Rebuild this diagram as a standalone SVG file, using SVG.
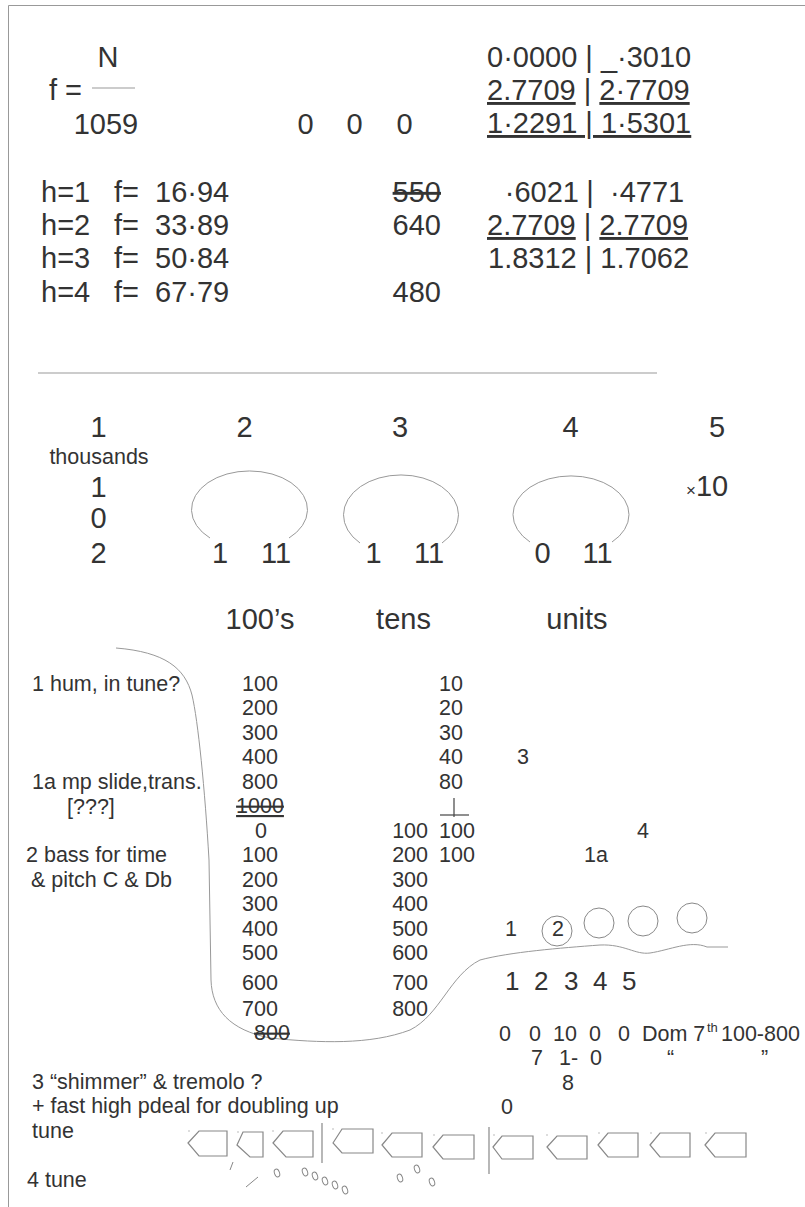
<svg xmlns="http://www.w3.org/2000/svg" width="805" height="1207" viewBox="0 0 805 1207">
<style>
text{font-family:"Liberation Sans",Arial,sans-serif;fill:#333}
.b{font-size:29px}
.s{font-size:21.5px}
.m{font-size:26px}
.c{text-anchor:middle}
.e{text-anchor:end}
.u{text-decoration:underline}
.x{text-decoration:line-through}
.ln{fill:none;stroke:#999;stroke-width:1}
.sh{fill:none;stroke:#888;stroke-width:1.2}
.ov{fill:none;stroke:#888;stroke-width:1}
.tk{stroke:#bbb;stroke-width:1}
</style>
<rect x="0" y="0" width="805" height="1207" fill="#fff"/>
<g id="frame">
<path class="ln" d="M8.5,1207 V5.5 H805"/>
</g>
<g id="formula">
<text class="b c" x="108" y="67">N</text>
<text class="b" x="49" y="100">f =</text>
<line class="ln" x1="92" y1="88" x2="135" y2="88"/>
<text class="b c" x="106" y="134">1059</text>
<text class="b c" x="305.5" y="134">0</text>
<text class="b c" x="354.5" y="134">0</text>
<text class="b c" x="404.5" y="134">0</text>
</g>
<g id="logs-top">
<text class="b" x="487" y="67">0·0000 | _·3010</text>
<text class="b" x="487" y="100"><tspan class="u">2.7709</tspan> | <tspan class="u">2·7709</tspan></text>
<text class="b u" x="487" y="133">1·2291 | 1·5301</text>
</g>
<g id="harmonics">
<text class="b" x="41" y="202">h=1</text><text class="b" x="114" y="202">f=</text><text class="b" x="155" y="202">16·94</text>
<text class="b" x="41" y="235">h=2</text><text class="b" x="114" y="235">f=</text><text class="b" x="155" y="235">33·89</text>
<text class="b" x="41" y="268">h=3</text><text class="b" x="114" y="268">f=</text><text class="b" x="155" y="268">50·84</text>
<text class="b" x="41" y="302">h=4</text><text class="b" x="114" y="302">f=</text><text class="b" x="155" y="302">67·79</text>
<text class="b e x" x="441" y="202">550</text>
<text class="b e" x="441" y="235">640</text>
<text class="b e" x="441" y="302">480</text>
</g>
<g id="logs-bottom">
<text class="b e" x="579" y="202">·6021</text>
<text class="b c" x="590" y="202">|</text>
<text class="b" x="610" y="202">·4771</text>
<text class="b" x="487" y="235"><tspan class="u">2.7709</tspan> | <tspan class="u">2.7709</tspan></text>
<text class="b" x="488" y="268">1.8312 | 1.7062</text>
</g>
<line id="divider" class="ln" x1="38" y1="373" x2="657" y2="373"/>
<g id="places">
<text class="b c" x="98.5" y="437">1</text>
<text class="b c" x="244.5" y="437">2</text>
<text class="b c" x="400" y="437">3</text>
<text class="b c" x="570.5" y="437">4</text>
<text class="b c" x="717" y="437">5</text>
<text class="s c" x="99" y="464">thousands</text>
<text class="b c" x="98.5" y="497">1</text>
<text class="b c" x="98.5" y="528">0</text>
<text class="b c" x="98.5" y="563">2</text>
<text class="b" x="686" y="496"><tspan font-size="17">×</tspan>10</text>
<path class="ln" d="M210,538 A58,38.7 0 1 1 289,538"/>
<path class="ln" d="M360,543 A57.5,40 0 1 1 442,543"/>
<path class="ln" d="M530,542 A58,38.7 0 1 1 612,542"/>
<text class="b c" x="220" y="563">1</text>
<text class="b c" x="276" y="563">11</text>
<text class="b c" x="373.5" y="563">1</text>
<text class="b c" x="429" y="563">11</text>
<text class="b c" x="542.5" y="563">0</text>
<text class="b c" x="597.5" y="563">11</text>
<text class="b c" x="260" y="629">100’s</text>
<text class="b c" x="403.5" y="629">tens</text>
<text class="b c" x="577" y="629">units</text>
</g>
<g id="connectors">
<path class="ln" d="M116,648 C165,652 185,668 192,695 C198,720 205,790 209,860 L211,980 C212,1010 230,1030 270,1038 C320,1043 370,1045 410,1030 C440,1015 450,975 480,960 C510,952 560,948 600,945 C625,944 635,955 650,953 C670,950 690,940 707,947 L728,947"/>
</g>
<g id="notes-left">
<text class="s" x="32" y="691">1 hum, in tune?</text>
<text class="s" x="32" y="789">1a mp slide,trans.</text>
<text class="s" x="67" y="814">[???]</text>
<text class="s" x="26" y="862">2 bass for time</text>
<text class="s" x="31" y="887">&amp; pitch C &amp; Db</text>
</g>
<g id="column-a">
<text class="s c" x="260" y="691">100</text>
<text class="s c" x="260" y="715">200</text>
<text class="s c" x="260" y="740">300</text>
<text class="s c" x="260" y="764">400</text>
<text class="s c" x="260" y="789">800</text>
<text class="s c" x="260" y="813" style="text-decoration:line-through underline">1000</text>
<text class="s c" x="261" y="838">0</text>
<text class="s c" x="260" y="862">100</text>
<text class="s c" x="260" y="887">200</text>
<text class="s c" x="260" y="911">300</text>
<text class="s c" x="260" y="936">400</text>
<text class="s c" x="260" y="960">500</text>
<text class="s c" x="260" y="990">600</text>
<text class="s c" x="260" y="1016">700</text>
<text class="s c x" x="272" y="1040">800</text>
</g>
<g id="column-b">
<text class="s e" x="428" y="838">100</text>
<text class="s e" x="428" y="862">200</text>
<text class="s e" x="428" y="887">300</text>
<text class="s e" x="428" y="911">400</text>
<text class="s e" x="428" y="936">500</text>
<text class="s e" x="428" y="960">600</text>
<text class="s e" x="428" y="990">700</text>
<text class="s e" x="428" y="1016">800</text>
</g>
<g id="column-c">
<text class="s" x="439" y="691">10</text>
<text class="s" x="439" y="715">20</text>
<text class="s" x="439" y="740">30</text>
<text class="s" x="439" y="764">40</text>
<text class="s" x="439" y="789">80</text>
<line x1="454" y1="798" x2="454" y2="817" stroke="#444" stroke-width="1.2"/>
<line x1="440" y1="815" x2="469" y2="815" stroke="#444" stroke-width="1.2"/>
<text class="s" x="439" y="838">100</text>
<text class="s" x="439" y="862">100</text>
<text class="s" x="517" y="764">3</text>
<text class="s" x="637" y="838">4</text>
<text class="s" x="584" y="862">1a</text>
</g>
<g id="circles">
<text class="s" x="505" y="936">1</text>
<circle class="ov" cx="557" cy="931" r="15"/>
<text class="s c" x="558" y="936">2</text>
<circle class="ov" cx="599" cy="923" r="15"/>
<circle class="ov" cx="643" cy="921" r="15"/>
<circle class="ov" cx="692" cy="918" r="15"/>
<text class="m" x="505" y="990">1</text>
<text class="m" x="534" y="990">2</text>
<text class="m" x="564" y="990">3</text>
<text class="m" x="593" y="990">4</text>
<text class="m" x="622" y="990">5</text>
</g>
<g id="chords">
<text class="s" x="499" y="1041">0</text>
<text class="s" x="529" y="1041">0</text>
<text class="s" x="553" y="1041">10</text>
<text class="s" x="589" y="1041">0</text>
<text class="s" x="618" y="1041">0</text>
<text class="s" x="642" y="1041">Dom 7</text>
<text x="707" y="1032" font-size="13">th</text>
<text class="s" x="721" y="1041">100-800</text>
<text class="s" x="531" y="1065">7</text>
<text class="s" x="559" y="1065">1-</text>
<text class="s" x="590" y="1065">0</text>
<text class="s" x="667" y="1065">“</text>
<text class="s" x="761" y="1065">”</text>
<text class="s" x="562" y="1090">8</text>
<text class="s" x="501" y="1114">0</text>
</g>
<g id="notes-bottom">
<text class="s" x="32" y="1089">3 “shimmer” &amp; tremolo ?</text>
<text class="s" x="32" y="1113">+ fast high pdeal for doubling up</text>
<text class="s" x="32" y="1138">tune</text>
<text class="s" x="27" y="1187">4 tune</text>
</g>
<g id="staff">
<polygon class="sh" points="188,1143 199,1131 227,1131 227,1156 199,1156"/>
<polygon class="sh" points="237,1145 243,1132 263,1132 263,1157 250,1157"/>
<polygon class="sh" points="273,1143 283,1131 313,1131 313,1157 286,1157"/>
<line class="sh" x1="322" y1="1123" x2="322" y2="1163"/>
<polygon class="sh" points="333,1143 342,1129 373,1129 373,1153 342,1153"/>
<polygon class="sh" points="382,1145 392,1133 422,1133 422,1157 392,1157"/>
<polygon class="sh" points="433,1147 443,1135 474,1135 474,1159 443,1159"/>
<line class="sh" x1="489" y1="1127" x2="489" y2="1174"/>
<polygon class="sh" points="493,1147 502,1136 533,1136 533,1159 502,1159"/>
<polygon class="sh" points="547,1147 557,1136 587,1136 587,1159 557,1159"/>
<polygon class="sh" points="598,1145 608,1133 638,1133 638,1157 608,1157"/>
<polygon class="sh" points="650,1145 660,1133 690,1133 690,1157 660,1157"/>
<polygon class="sh" points="705,1145 715,1133 746,1133 746,1157 715,1157"/>
<g class="tk">
<line x1="188" y1="1131" x2="190" y2="1131"/>
<line x1="237" y1="1132" x2="239" y2="1132"/>
<line x1="272" y1="1131" x2="274" y2="1131"/>
<line x1="332" y1="1129" x2="334" y2="1129"/>
<line x1="381" y1="1133" x2="383" y2="1133"/>
<line x1="433" y1="1135" x2="435" y2="1135"/>
<line x1="493" y1="1135" x2="495" y2="1135"/>
<line x1="546" y1="1135" x2="548" y2="1135"/>
<line x1="598" y1="1133" x2="600" y2="1133"/>
<line x1="650" y1="1133" x2="652" y2="1133"/>
<line x1="705" y1="1133" x2="707" y2="1133"/>
</g>
<line class="ov" x1="233" y1="1162" x2="230" y2="1170"/>
<line class="ov" x1="246" y1="1187" x2="258" y2="1177"/>
<g class="ov">
<ellipse cx="277" cy="1173" rx="2.5" ry="4" transform="rotate(-20 277 1173)"/>
<ellipse cx="305" cy="1172" rx="2.5" ry="4" transform="rotate(-20 305 1172)"/>
<ellipse cx="315" cy="1176" rx="2.5" ry="4" transform="rotate(-20 315 1176)"/>
<ellipse cx="325" cy="1181" rx="2.5" ry="4" transform="rotate(-20 325 1181)"/>
<ellipse cx="335" cy="1185" rx="2.5" ry="4" transform="rotate(-20 335 1185)"/>
<ellipse cx="345" cy="1190" rx="2.5" ry="4" transform="rotate(-20 345 1190)"/>
<ellipse cx="400" cy="1178" rx="2.5" ry="4" transform="rotate(-20 400 1178)"/>
<ellipse cx="417" cy="1169" rx="2.5" ry="4" transform="rotate(-20 417 1169)"/>
<ellipse cx="432" cy="1182" rx="2.5" ry="4" transform="rotate(-20 432 1182)"/>
</g>
</g>
</svg>
